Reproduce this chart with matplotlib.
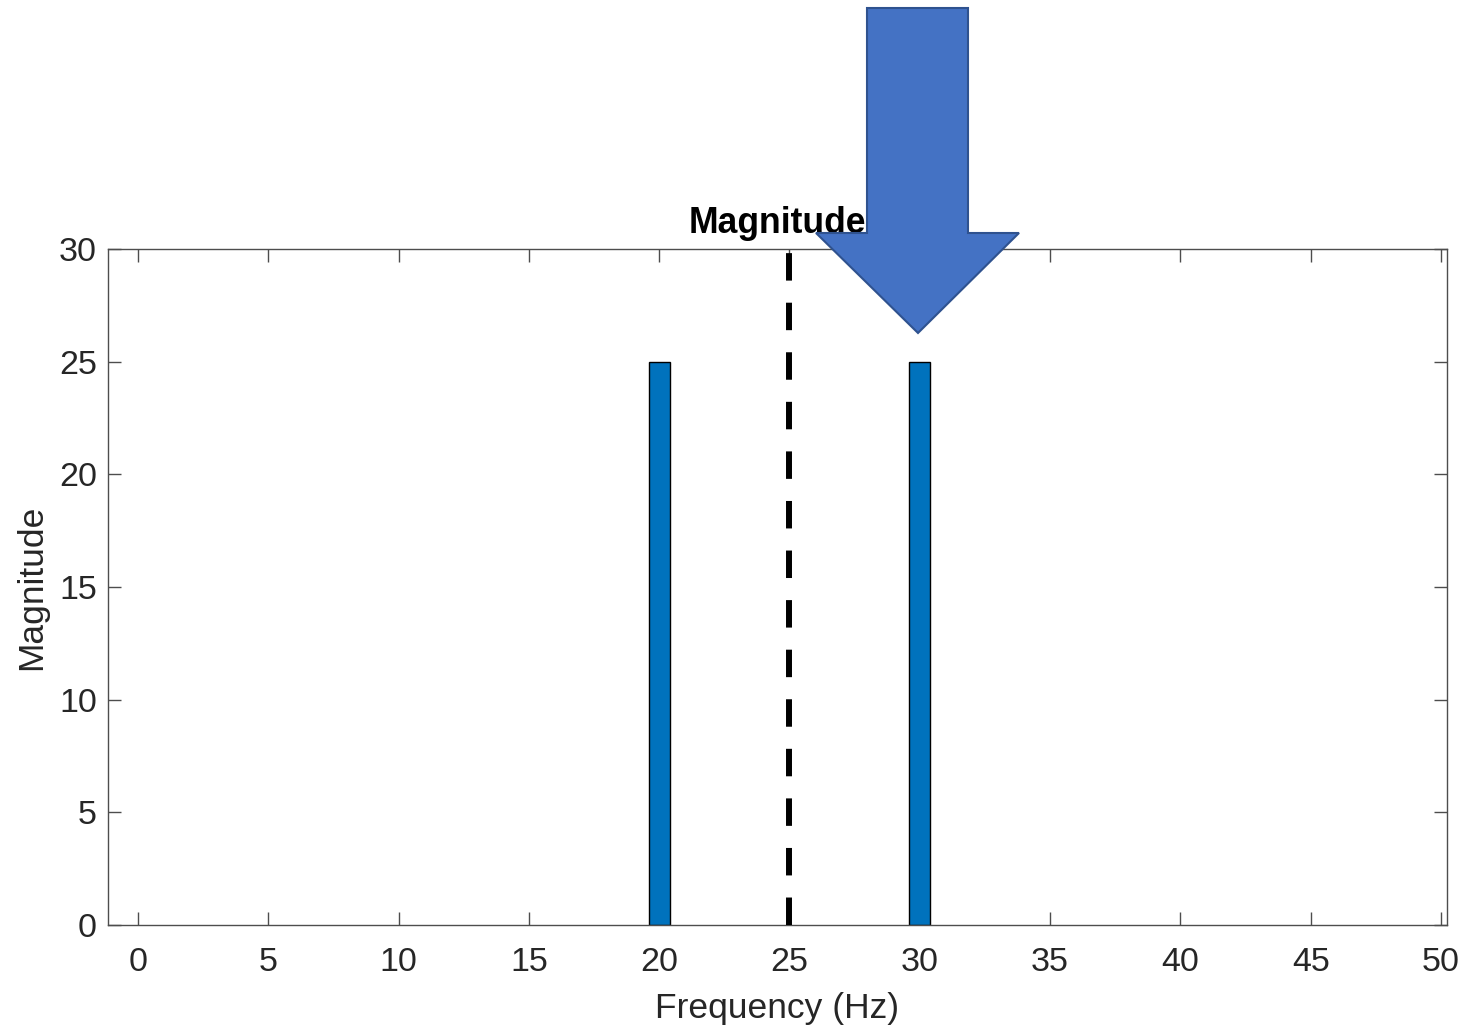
import matplotlib.pyplot as plt
from matplotlib.patches import Polygon

# Spectrum peaks
freqs = [20, 30]
mags = [25, 25]
cutoff_hz = 25
x_ticks = [0, 5, 10, 15, 20, 25, 30, 35, 40, 45, 50]
y_ticks = [0, 5, 10, 15, 20, 25, 30]

W, H = 1466, 1029
plt.rcParams["font.family"] = ["Liberation Sans", "DejaVu Sans"]
text_col = "#262626"
axis_col = "#4d4d4d"

fig = plt.figure(figsize=(W / 100, H / 100), dpi=100)
ax = fig.add_axes([108 / W, 1 - 925 / H, (1446.5 - 108) / W, (925 - 249) / H])

ax.bar(freqs, mags, width=0.8, color="#0072BD", edgecolor="black", linewidth=1.0, zorder=2)
ax.plot([cutoff_hz, cutoff_hz], [0, 30], color="black", linewidth=4.3,
        dashes=(4.6, 3.7), zorder=3)

ax.set_xlim(-1.15, 50.21)
ax.set_ylim(0, 30)
ax.set_xticks(x_ticks)
ax.set_yticks(y_ticks)
ax.tick_params(direction="in", length=9.5, width=1.0, color=axis_col,
               labelsize=24.5, labelcolor=text_col, top=True, right=True)
ax.tick_params(axis="x", pad=16)
ax.tick_params(axis="y", pad=8)
for s in ax.spines.values():
    s.set_color(axis_col)
    s.set_linewidth(1.0)

ax.set_xlabel("Frequency (Hz)", fontsize=25.5, color=text_col, labelpad=10)
ax.set_ylabel("Magnitude", fontsize=25.5, color=text_col, labelpad=7.5)
ax.text(0.5, 1.0237, "Magnitude", transform=ax.transAxes, ha="center",
        va="baseline", fontsize=25.6, fontweight="bold", color="black",
        family=["Liberation Sans", "DejaVu Sans"])

# Block arrow pointing at the 30 Hz peak, laid over the figure in pixel units
arrow_px = [(867, 8), (968, 8), (968, 233), (1019, 233), (918, 333),
            (816, 233), (867, 233)]
arrow_fig = [(x / W, 1 - y / H) for x, y in arrow_px]
fig.patches.append(Polygon(arrow_fig, closed=True, transform=fig.transFigure,
                           facecolor="#4472C4", edgecolor="#2F528F",
                           linewidth=1.5, zorder=10))

fig.savefig("out.png", dpi=100)
